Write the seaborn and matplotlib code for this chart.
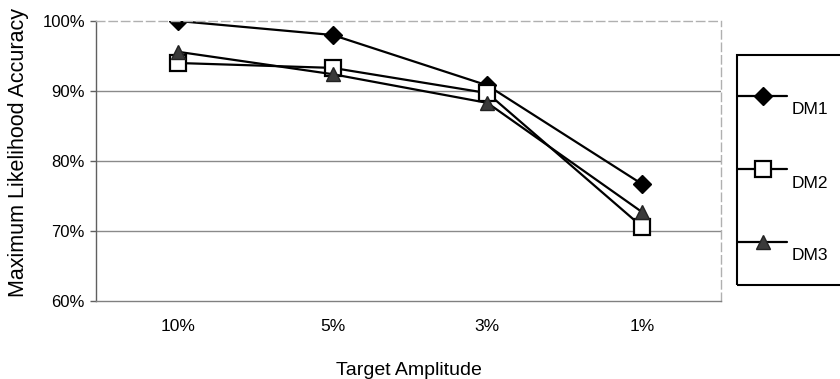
import matplotlib
matplotlib.use("Agg")
import matplotlib.pyplot as plt
import seaborn as sns
import pandas as pd
from matplotlib.lines import Line2D
from matplotlib.patches import Rectangle

amplitudes = ["10%", "5%", "3%", "1%"]
dm1 = [100.0, 98.0, 90.8, 76.7]
dm2 = [94.0, 93.3, 89.7, 70.6]
dm3 = [95.6, 92.4, 88.3, 72.7]
series_names = ["DM1", "DM2", "DM3"]
y_ticks = [60, 70, 80, 90, 100]
y_tick_labels = ["60%", "70%", "80%", "90%", "100%"]

sns.set_theme(style="white")
plt.rcParams["font.family"] = ["Liberation Sans", "DejaVu Sans"]

W, H = 840, 379
fig = plt.figure(figsize=(W / 100, H / 100), dpi=100)
ax = fig.add_axes([96 / W, 1 - 301 / H, 625 / W, 280 / H])

styles = {
    "DM1": dict(marker="D", ms=9.5, mfc="black", mec="black", mew=1.0),
    "DM2": dict(marker="s", ms=11.0, mfc="white", mec="black", mew=1.6),
    "DM3": dict(marker="^", ms=10.5, mfc="#3a3a3a", mec="#222222", mew=1.0),
}

df = pd.DataFrame({
    "Target Amplitude": amplitudes * 3,
    "acc": dm1 + dm2 + dm3,
    "series": [s for s in series_names for _ in amplitudes],
})

for name in series_names:
    sub = df[df["series"] == name]
    sns.lineplot(data=sub, x="Target Amplitude", y="acc", sort=False, ax=ax,
                 color="black", lw=1.6, **styles[name])

ax.set_xlim(-0.53, 3.51)
ax.set_ylim(60, 100)
ax.set_yticks(y_ticks)
ax.set_yticklabels(y_tick_labels)
ax.set_xticks(range(len(amplitudes)))
ax.set_xticklabels(amplitudes)

for v in [70, 80, 90]:
    ax.axhline(v, color="#8a8a8a", lw=1.0, zorder=0)

for side in ["top", "right"]:
    ax.spines[side].set_color("#b0b0b0")
    ax.spines[side].set_linestyle((0, (6, 3)))
    ax.spines[side].set_linewidth(1.0)
ax.spines["left"].set_color("#606060")
ax.spines["left"].set_linewidth(1.0)
ax.spines["bottom"].set_color("#808080")
ax.spines["bottom"].set_linewidth(1.0)

ax.tick_params(axis="y", which="both", left=True, length=4, width=1, color="#606060",
               labelsize=12, pad=4, labelcolor="black")
ax.tick_params(axis="x", length=0, labelsize=12.5, pad=13, labelcolor="black")

ax.set_xlabel("Target Amplitude", fontsize=14, labelpad=20, color="black")
ax.set_ylabel("Maximum Likelihood Accuracy", fontsize=15.5, color="black")
ax.yaxis.set_label_coords(-0.107, 0.53)

# legend drawn manually in figure pixels
def fx(px):
    return px / W

def fy(py):
    return 1 - py / H

fig.add_artist(Rectangle((fx(737), fy(285)), fx(120), (285 - 55) / H,
                         transform=fig.transFigure, fill=False, ec="black",
                         lw=1.5, clip_on=False))
legend_y = [96, 169, 242]
for name, ly in zip(series_names, legend_y):
    fig.add_artist(Line2D([fx(738), fx(787)], [fy(ly), fy(ly)],
                          transform=fig.transFigure, color="black", lw=1.6))
    st = styles[name]
    fig.add_artist(Line2D([fx(763)], [fy(ly)], transform=fig.transFigure,
                          ls="none", **st))
    fig.text(fx(792), fy(ly + 14), name, fontsize=12.5, va="center", ha="left",
             color="black")

fig.savefig("out.png", dpi=100)
